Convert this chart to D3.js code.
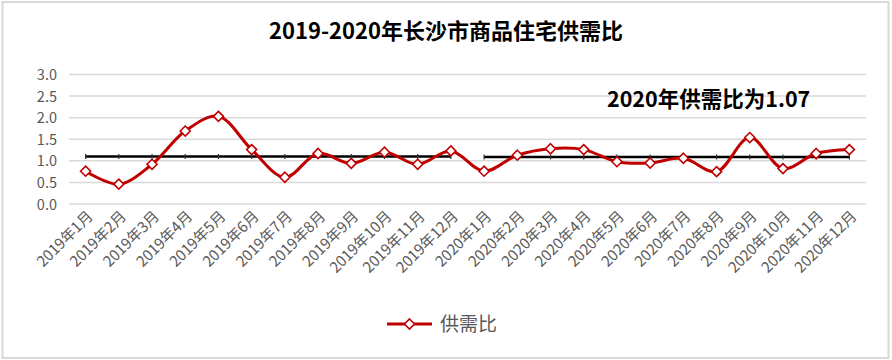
<!DOCTYPE html>
<html><head><meta charset="utf-8">
<script src="https://cdn.jsdelivr.net/npm/d3@7"></script>
<style>
body{margin:0;background:#fff;}
svg{display:block;}
text{font-family:"Microsoft YaHei","Noto Sans CJK SC","Noto Sans",sans-serif;}
</style></head>
<body>
<svg id="chart" width="892" height="360"></svg>
<script>
const categories = ["2019年1月","2019年2月","2019年3月","2019年4月","2019年5月","2019年6月","2019年7月","2019年8月","2019年9月","2019年10月","2019年11月","2019年12月",
"2020年1月","2020年2月","2020年3月","2020年4月","2020年5月","2020年6月","2020年7月","2020年8月","2020年9月","2020年10月","2020年11月","2020年12月"];
const ratioValues = [0.76,0.46,0.92,1.69,2.03,1.26,0.62,1.17,0.94,1.20,0.92,1.23,
0.76,1.13,1.28,1.26,0.98,0.95,1.06,0.75,1.54,0.82,1.17,1.26];
const avg2019 = 1.10;
const avg2020 = 1.09;
const yTicks = [0,0.5,1.0,1.5,2.0,2.5,3.0];
const seriesName = "供需比";
const title = "2019-2020年长沙市商品住宅供需比";
const note = "2020年供需比为1.07";

const svg = d3.select("#chart");
const red = "#C00000", grid = "#D9D9D9", txt = "#595959";

svg.append("rect").attr("x",2.5).attr("y",2).attr("width",886).attr("height",356)
  .attr("fill","#fff").attr("stroke","#D9D9D9").attr("stroke-width",2);

const x = d3.scaleBand().domain(categories).range([69,866]);
const cx = d => x(d) + x.bandwidth()/2;
const y = d3.scaleLinear().domain([0,3]).range([204,74.5]);

svg.append("g").selectAll("line").data(yTicks).join("line")
  .attr("x1",69).attr("x2",866).attr("y1",d=>y(d)).attr("y2",d=>y(d))
  .attr("stroke",grid).attr("stroke-width",1.5);

const yAxis = d3.axisLeft(y).tickValues(yTicks).tickFormat(d3.format(".1f")).tickSize(0).tickPadding(0);
const ya = svg.append("g").attr("transform","translate(57,0)").call(yAxis);
ya.select(".domain").remove();
ya.selectAll("text").attr("fill",txt).style("font-size","14.5px").attr("dy","0.35em");

const xAxis = d3.axisBottom(x).tickSize(0).tickPadding(0);
const xa = svg.append("g").call(xAxis);
xa.select(".domain").remove();
xa.selectAll(".tick").attr("transform",d=>`translate(${cx(d)+5},214)`);
xa.selectAll("text").attr("fill",txt).style("font-size","15px")
  .attr("y",0).attr("dy","0.3em").attr("text-anchor","end").attr("transform","rotate(-45)");

const avgs = [
  {vals: categories.slice(0,12), v: avg2019},
  {vals: categories.slice(12), v: avg2020}
];
avgs.forEach(a=>{
  svg.append("line").attr("x1",cx(a.vals[0])).attr("x2",cx(a.vals[a.vals.length-1]))
    .attr("y1",y(a.v)).attr("y2",y(a.v)).attr("stroke","#000").attr("stroke-width",2.6);
  svg.append("g").selectAll("line").data(a.vals).join("line")
    .attr("x1",d=>cx(d)).attr("x2",d=>cx(d)).attr("y1",y(a.v)-2.5).attr("y2",y(a.v)+2.5)
    .attr("stroke","#333").attr("stroke-width",1.2);
});

const pts = categories.map((c,i)=>({c, v: ratioValues[i]}));
const line = d3.line().x(d=>cx(d.c)).y(d=>y(d.v)).curve(d3.curveCatmullRom.alpha(0.5));
svg.append("path").datum(pts).attr("d",line).attr("fill","none")
  .attr("stroke",red).attr("stroke-width",3).attr("stroke-linejoin","round");

const diamond = d3.symbol().type(d3.symbolDiamond2).size(64);
svg.append("g").selectAll("path").data(pts).join("path")
  .attr("d",diamond).attr("transform",d=>`translate(${cx(d.c)},${y(d.v)})`)
  .attr("fill","#fff").attr("stroke",red).attr("stroke-width",1.6);

svg.append("text").attr("x",446).attr("y",39).attr("text-anchor","middle")
  .style("font-size","22px").style("font-weight","bold").attr("fill","#000").text(title);

svg.append("text").attr("x",607).attr("y",107).attr("text-anchor","start")
  .style("font-size","21.5px").style("font-weight","bold").attr("fill","#000").text(note);

const lg = svg.append("g");
lg.append("line").attr("x1",387).attr("x2",432).attr("y1",324).attr("y2",324)
  .attr("stroke",red).attr("stroke-width",3);
lg.append("path").attr("d",diamond).attr("transform","translate(409.5,324)")
  .attr("fill","#fff").attr("stroke",red).attr("stroke-width",1.6);
lg.append("text").attr("x",440).attr("y",324).attr("dy","0.35em")
  .style("font-size","19px").attr("fill",txt).text(seriesName);
</script>
</body></html>
